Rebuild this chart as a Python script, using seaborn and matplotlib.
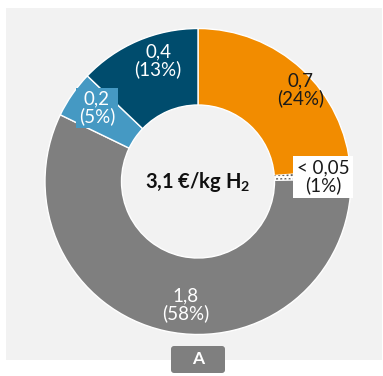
import matplotlib
matplotlib.use("Agg")
import matplotlib.pyplot as plt
from matplotlib.patches import FancyBboxPatch, Rectangle
import seaborn as sns

categories = ["Orange", "Small", "Gray", "Light blue", "Dark blue"]
values = [0.7, 0.05, 1.8, 0.2, 0.4]
shares = [24, 1, 58, 5, 13]
value_labels = ["0,7", "< 0,05", "1,8", "0,2", "0,4"]
share_labels = ["(24%)", "(1%)", "(58%)", "(5%)", "(13%)"]
center_label = "3,1 €/kg H"
panel_label = "A"

colors = ["#F28C00", "#FFFFFF", "#7F7F7F", "#4599C3", "#004C6D"]

sns.set_theme(style="white")
plt.rcParams["font.family"] = ["Lato", "DejaVu Sans"]
plt.rcParams["mathtext.fontset"] = "custom"
plt.rcParams["mathtext.rm"] = "Lato"
plt.rcParams["mathtext.bf"] = "Lato:bold"

W, H = 383, 376
fig = plt.figure(figsize=(W / 100, H / 100), dpi=100)
fig.patch.set_facecolor("white")

# background panel
fig.patches.append(Rectangle((6 / W, 1 - 360 / H), (382 - 6) / W, (360 - 8) / H,
                             transform=fig.transFigure, facecolor="#F2F2F2",
                             edgecolor="none", zorder=-5))

cx, cy, R = 198, 181.5, 153
ax = fig.add_axes([(cx - R) / W, 1 - (cy + R) / H, 2 * R / W, 2 * R / H])
ax.set_zorder(1)
ax.set_facecolor("none")

wedges, _ = ax.pie(shares, colors=colors, startangle=90, counterclock=False,
                   radius=1.0, wedgeprops=dict(width=0.5, edgecolor="white", linewidth=1.0))
wedges[1].set_hatch("....")
wedges[1].set_edgecolor("#555555")
wedges[1].set_linewidth(0)
ax.set_xlim(-1, 1)
ax.set_ylim(-1, 1)
ax.axis("off")

def px(x, y):
    return (x - cx) / R, (cy - y) / R

label_pos = [(301, 90), (323, 177), (186, 305), (97, 108), (158, 61)]
text_colors = ["#1a1a1a", "#1a1a1a", "white", "white", "white"]
boxes = [None, dict(facecolor="white", edgecolor="none", pad=2.5),
         None, dict(facecolor="#4599C3", edgecolor="none", pad=2.0), None]
for i in range(len(categories)):
    x, y = px(*label_pos[i])
    kw = {}
    if boxes[i] is not None:
        kw["bbox"] = boxes[i]
    ax.text(x, y, value_labels[i] + "\n" + share_labels[i], ha="center", va="center",
            fontsize=13.5, color=text_colors[i], linespacing=1.0, zorder=5, **kw)

x, y = px(198, 182)
ax.text(x, y, center_label + r"$_\mathbf{2}$", ha="center", va="center",
        fontsize=14.5, fontweight="bold", color="#111111", zorder=5)

# label box at bottom
fig.patches.append(FancyBboxPatch((171 / W, 1 - 373 / H), (225 - 171) / W, (373 - 346) / H,
                                  boxstyle="round,pad=0,rounding_size=0.008",
                                  transform=fig.transFigure, facecolor="#7F7F7F",
                                  edgecolor="none", zorder=5))
fig.text(198 / W, 1 - 359.5 / H, panel_label, ha="center", va="center", fontsize=12.5,
         fontweight="bold", color="white", zorder=6)

fig.savefig("out.png", dpi=100)
